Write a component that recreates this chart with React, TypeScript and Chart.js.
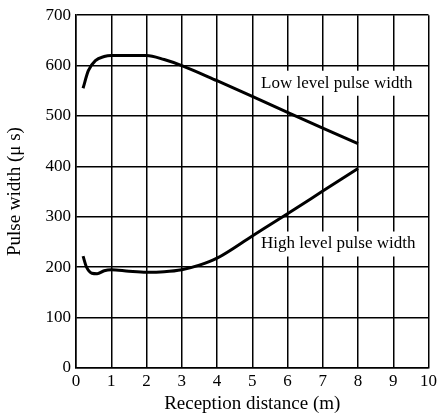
import React, { useEffect, useRef } from 'react';
import { Chart, registerables } from 'chart.js';
Chart.register(...registerables);

const lowX = [0.2, 0.35, 0.55, 0.8, 1, 1.5, 2, 2.5, 3, 4, 5, 6, 7, 8];
const lowY = [555, 590, 610, 618, 620, 620, 620, 612, 600, 570, 539, 507, 476, 445];
const highX = [0.2, 0.3, 0.45, 0.6, 0.8, 1, 1.5, 2, 2.5, 3, 3.5, 4, 5, 6, 7, 8];
const highY = [222, 200, 188, 187, 193, 195, 192, 190, 191, 195, 204, 218, 262, 306, 351, 396];
const xTicks = [0, 1, 2, 3, 4, 5, 6, 7, 8, 9, 10];
const yTicks = [0, 100, 200, 300, 400, 500, 600, 700];
const labels = [
  { text: 'Low level pulse width', x: 5.25, y: 565 },
  { text: 'High level pulse width', x: 5.25, y: 246 },
];

const FONT = '"Liberation Serif", "Times New Roman", serif';

export default function App() {
  const ref = useRef<HTMLCanvasElement>(null);
  useEffect(() => {
    document.body.style.margin = '0';
    const labelPlugin = {
      id: 'curveLabels',
      beforeDatasetsDraw(chart: any) {
        const { ctx, scales } = chart;
        ctx.save();
        ctx.font = `17px ${FONT}`;
        labels.forEach((l) => {
          const px = scales.x.getPixelForValue(l.x);
          const py = scales.y.getPixelForValue(l.y);
          const w = ctx.measureText(l.text).width;
          ctx.fillStyle = '#fff';
          ctx.fillRect(px - 4, py - 12.5, w + 8, 25);
        });
        ctx.restore();
      },
      afterDatasetsDraw(chart: any) {
        const { ctx, scales } = chart;
        ctx.save();
        ctx.font = `17px ${FONT}`;
        ctx.textAlign = 'left';
        ctx.textBaseline = 'middle';
        ctx.fillStyle = '#000';
        labels.forEach((l) => {
          ctx.fillText(l.text, scales.x.getPixelForValue(l.x), scales.y.getPixelForValue(l.y));
        });
        ctx.restore();
      },
    };
    const chart = new Chart(ref.current!, {
      type: 'scatter',
      data: {
        datasets: [
          {
            data: lowX.map((x, i) => ({ x, y: lowY[i] })),
            showLine: true,
            borderColor: '#000',
            borderWidth: 3,
            pointRadius: 0,
            cubicInterpolationMode: 'monotone',
          },
          {
            data: highX.map((x, i) => ({ x, y: highY[i] })),
            showLine: true,
            borderColor: '#000',
            borderWidth: 3,
            pointRadius: 0,
            cubicInterpolationMode: 'monotone',
          },
        ],
      },
      options: {
        animation: false,
        responsive: false,
        layout: { padding: { top: 12, right: 8, left: 0, bottom: 0 } },
        plugins: { legend: { display: false }, tooltip: { enabled: false } },
        scales: {
          x: {
            type: 'linear',
            min: 0,
            max: 10,
            afterBuildTicks: (s: any) => { s.ticks = xTicks.map((v) => ({ value: v })); },
            afterFit: (s: any) => { s.height = 47; },
            ticks: { color: '#000', font: { family: FONT, size: 17 }, padding: 3, maxRotation: 0 },
            grid: { color: '#000', lineWidth: 1.5, drawTicks: false },
            border: { color: '#000', width: 1.5 },
            title: { display: true, text: 'Reception distance (m)', color: '#000', font: { family: FONT, size: 19 }, padding: { top: 1, bottom: 0 } },
          },
          y: {
            type: 'linear',
            min: 0,
            max: 700,
            afterBuildTicks: (s: any) => { s.ticks = yTicks.map((v) => ({ value: v })); },
            afterFit: (s: any) => { s.width = 76; },
            ticks: { color: '#000', font: { family: FONT, size: 17 }, padding: 5 },
            grid: { color: '#000', lineWidth: 1.5, drawTicks: false },
            border: { color: '#000', width: 1.5 },
            title: { display: true, text: 'Pulse width (μ s)', color: '#000', font: { family: FONT, size: 19 }, padding: { top: 4, bottom: 0 } },
          },
        },
      },
      plugins: [labelPlugin],
    } as any);
    return () => chart.destroy();
  }, []);
  return (
    <div style={{ width: 440, height: 415 }}>
      <canvas ref={ref} width={440} height={415} />
    </div>
  );
}
